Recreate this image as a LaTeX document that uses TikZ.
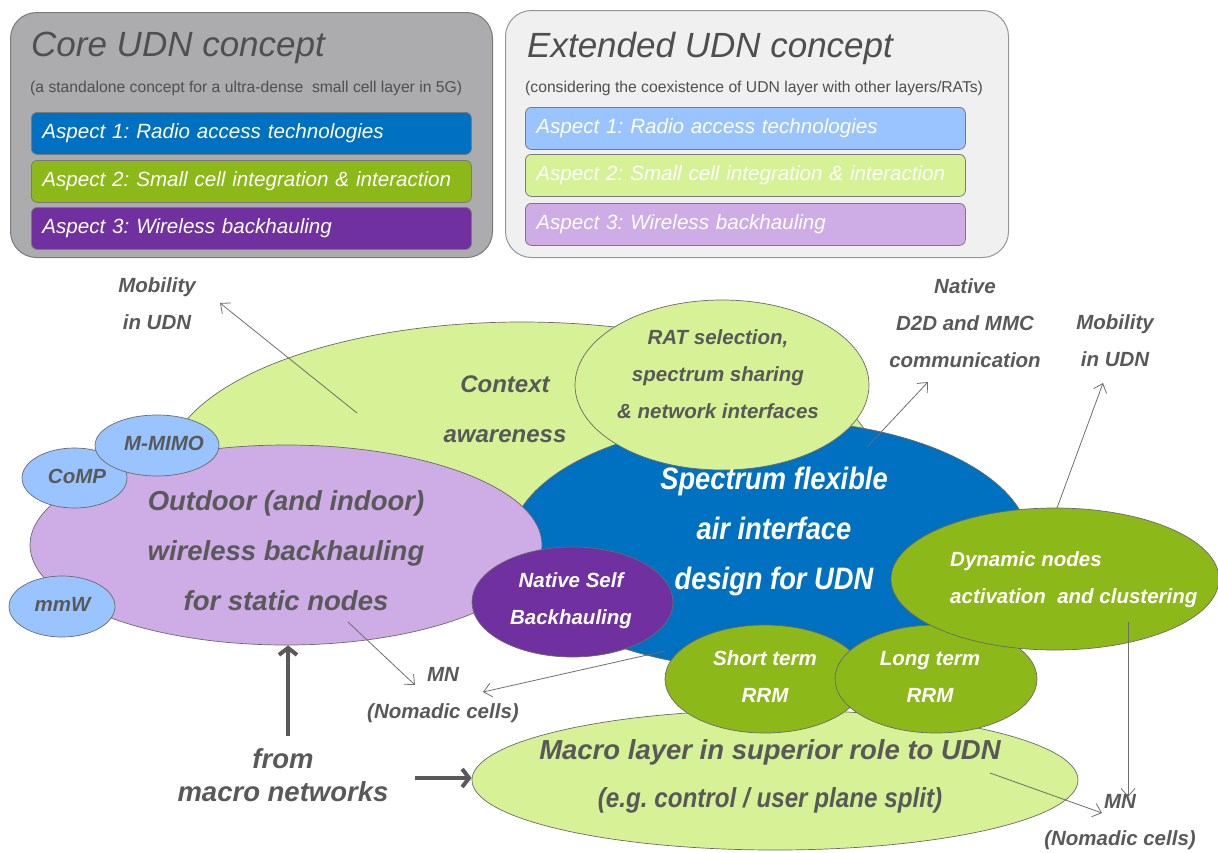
\documentclass[tikz,border=0pt]{standalone}
\usepackage{fontspec}
\setmainfont{Liberation Sans}
\newfontfamily\narrowfont{Liberation Sans}[FakeStretch=0.88]
\usetikzlibrary{shapes.geometric,arrows.meta}
\definecolor{coregray}{HTML}{ACACAE}
\definecolor{extgray}{HTML}{EFF0EF}
\definecolor{boxedge}{HTML}{7A7A7A}
\definecolor{udnblue}{HTML}{0070C0}
\definecolor{udngreen}{HTML}{8CB81A}
\definecolor{udnpurple}{HTML}{7030A0}
\definecolor{lblue}{HTML}{99C4FF}
\definecolor{lgreen}{HTML}{D7F196}
\definecolor{lpurple}{HTML}{CEACE6}
\definecolor{txtgray}{HTML}{595959}
\definecolor{titlegray}{HTML}{4F4F4F}
\definecolor{linegray}{HTML}{6E6E6E}
\definecolor{edgegray}{HTML}{6A6A6A}
\begin{document}
\frenchspacing
\begin{tikzpicture}[x=1pt,y=-1pt,
 bigbox/.style={draw=boxedge, line width=1pt, rounded corners=26pt, anchor=north west, inner sep=0pt},
 aspect/.style={draw=boxedge, line width=0.8pt, rounded corners=6pt, anchor=north west, text width=418pt, inner xsep=11pt, inner ysep=0pt, minimum height=42pt, align=left, text=white, font=\itshape\fontsize{20.6}{24}\selectfont},
 titlefont/.style={anchor=west, inner sep=0pt, text=titlegray, font=\itshape\fontsize{35}{40}\selectfont},
 subfont/.style={anchor=west, inner sep=0pt, text=titlegray, font=\fontsize{15.7}{18}\selectfont},
 ell/.style={ellipse, draw=edgegray, line width=0.7pt, inner sep=0pt},
 glab/.style={text=txtgray, align=center, inner sep=0pt},
 wlab/.style={text=white, align=center, inner sep=0pt},
 smallfont/.style={font=\bfseries\itshape\fontsize{20.5}{37}\selectfont},
 conn/.style={draw=linegray, line width=0.8pt, -{Straight Barb[length=8pt,width=14pt]}},
 fat/.style={draw=txtgray, line width=4pt, -{Straight Barb[length=7pt,width=18pt]}}
]
\useasboundingbox (0,0) rectangle (1218,852);

% ---- top boxes
\node[bigbox, fill=coregray, minimum width=482pt, minimum height=245pt] (core) at (10,12) {};
\node[titlefont] (coret) at (31,48) {Core UDN concept};
\node[subfont] (cores) at (30,88) {(a standalone concept for a ultra-dense~ small cell layer in 5G)};
\node[aspect, fill=udnblue] (c1) at (31,112) {Aspect 1: Radio access technologies};
\node[aspect, fill=udngreen] (c2) at (31,160) {Aspect 2: Small cell integration \& interaction};
\node[aspect, fill=udnpurple] (c3) at (31,207) {Aspect 3: Wireless backhauling};

\node[bigbox, fill=extgray, draw=boxedge!80, minimum width=503pt, minimum height=247pt] (ext) at (505,10) {};
\node[titlefont] (extt) at (527,48) {Extended UDN concept};
\node[subfont] (exts) at (525,88) {(considering the coexistence of UDN layer with other layers/RATs)};
\node[aspect, fill=lblue] (e1) at (525,107) {Aspect 1: Radio access technologies};
\node[aspect, fill=lgreen] (e2) at (525,154) {Aspect 2: Small cell integration \& interaction};
\node[aspect, fill=lpurple] (e3) at (525,203) {Aspect 3: Wireless backhauling};

% ---- ellipses
\node[ell, fill=lgreen, minimum width=710pt, minimum height=292pt] (ctx) at (522,468) {};
\coordinate (m1s) at (357,413);
\coordinate (m1e) at (220,303);
\draw[conn] (m1s) -- (m1e);
\node[ell, fill=udnblue, minimum width=520pt, minimum height=250pt] (spec) at (770,545) {};
\node[ell, fill=lpurple, minimum width=512pt, minimum height=200pt] (out) at (286,545) {};
\node[ell, fill=lblue, minimum width=105pt, minimum height=60pt] (comp) at (74.5,478) {};
\node[ell, fill=lblue, minimum width=124pt, minimum height=61pt] (mimo) at (157,445.5) {};
\node[ell, fill=lblue, minimum width=106pt, minimum height=61pt] (mmw) at (62,606.5) {};
\node[ell, fill=lgreen, minimum width=294pt, minimum height=170pt] (rat) at (722,385) {};
\node[ell, fill=udnpurple, minimum width=201pt, minimum height=110pt] (nsb) at (572.5,602) {};
\node[ell, fill=lgreen, minimum width=606pt, minimum height=140pt] (macro) at (775,780) {};
\node[ell, fill=udngreen, minimum width=200pt, minimum height=108pt] (srrm) at (765,679) {};
\node[ell, fill=udngreen, minimum width=202pt, minimum height=108pt] (lrrm) at (936,679) {};
\node[ell, fill=udngreen, minimum width=328pt, minimum height=142pt] (dyn) at (1055,579) {};

% ---- texts in ellipses
\node[glab, font=\bfseries\itshape\fontsize{24}{50}\selectfont] (ctxt) at (505,409) {Context\\awareness};
\node[glab, smallfont] (ratt) at (718,374) {RAT selection,\\spectrum sharing\\\& network interfaces};
\node[glab, font=\bfseries\itshape\fontsize{27.5}{50}\selectfont] (outt) at (286,551) {Outdoor (and indoor)\\wireless backhauling\\for static nodes};
\node[glab, smallfont] (mimot) at (164,443) {M-MIMO};
\node[glab, smallfont] (compt) at (77,476) {CoMP};
\node[glab, smallfont] (mmwt) at (62.5,604) {mmW};
\node[wlab, font=\narrowfont\bfseries\itshape\fontsize{31}{50}\selectfont] (spect) at (774,531) {Spectrum flexible\\air interface\\design for UDN};
\node[wlab, smallfont] (nsbt) at (571,601) {Native Self\\Backhauling};
\node[wlab, smallfont, align=left, anchor=west] (dynt) at (950,580) {Dynamic nodes\\activation~ and clustering};
\node[wlab, smallfont] (srrmt) at (765,677) {Short term\\RRM};
\node[wlab, smallfont] (lrrmt) at (930,677) {Long term\\RRM};
\node[glab, font=\bfseries\itshape\fontsize{27.5}{48}\selectfont] (macrot) at (770,776) {Macro layer in superior role to UDN\\{\narrowfont (e.g. control / user plane split)}};

% ---- outside labels
\node[glab, smallfont] (mob1) at (157,304) {Mobility\\in UDN};
\node[glab, smallfont] (d2d) at (965,323) {Native\\D2D and MMC\\communication};
\node[glab, smallfont] (mob2) at (1115,341) {Mobility\\in UDN};
\node[glab, smallfont] (mn1) at (443,695) {MN\\(Nomadic cells)};
\node[glab, smallfont] (mn2) at (1120,822) {MN\\(Nomadic cells)};
\node[glab, font=\bfseries\itshape\fontsize{27.5}{33}\selectfont] (frm) at (283,775) {from\\macro networks};

% ---- connectors
\coordinate (n1s) at (867,447);
\coordinate (n1e) at (928,382);
\draw[conn] (n1s) -- (n1e);
\coordinate (m2s) at (1057,508);
\coordinate (m2e) at (1103,383);
\draw[conn] (m2s) -- (m2e);
\coordinate (a1s) at (348,622);
\coordinate (a1e) at (415,685);
\draw[conn] (a1s) -- (a1e);
\coordinate (a2s) at (665,651);
\coordinate (a2e) at (483,692);
\draw[conn] (a2s) -- (a2e);
\coordinate (a3s) at (1128,622);
\coordinate (a3e) at (1128,797);
\draw[conn] (a3s) -- (a3e);
\coordinate (a4s) at (990,773);
\coordinate (a4e) at (1102,813);
\draw[conn] (a4s) -- (a4e);

\coordinate (f1s) at (288,736);
\draw[fat] (f1s) -- (f1s |- out.south);
\coordinate (f2s) at (415,778);
\draw[fat] (f2s) -- (f2s -| macro.west);
\end{tikzpicture}
\end{document}
